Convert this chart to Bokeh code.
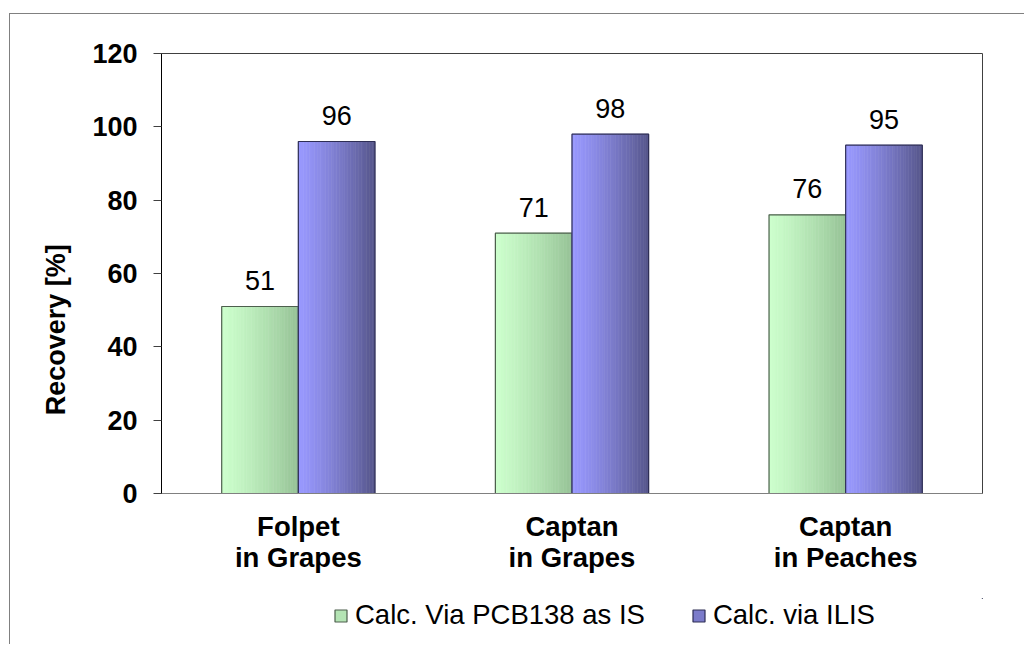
from bokeh.plotting import figure
from bokeh.layouts import column
from bokeh.models import ColumnDataSource, FactorRange, Range1d, Legend, LegendItem
from bokeh.transform import dodge
from bokeh.core.properties import value
from bokeh.embed import file_html
from bokeh.resources import INLINE

# ---- data ----
categories = ["Folpet\nin Grapes", "Captan\nin Grapes", "Captan\nin Peaches"]
series_names = ["Calc. Via PCB138 as IS", "Calc. via ILIS"]
pcb138 = [51, 71, 76]
ilis = [96, 98, 95]
y_ticks = [0, 20, 40, 60, 80, 100, 120]
y_title = "Recovery [%]"

FONT = "Liberation Sans"
FS = "27px"
BAR_W = 0.28
N_STRIPS = 28

series = [
    dict(name=series_names[0], vals=pcb138, off=-BAR_W / 2,
         c0=(204, 255, 204), c1=(150, 194, 150), edge="#4d5f4d"),
    dict(name=series_names[1], vals=ilis, off=BAR_W / 2,
         c0=(153, 153, 255), c1=(86, 86, 138), edge="#2e2e55"),
]

p = figure(x_range=FactorRange(factors=categories, range_padding=0),
           y_range=Range1d(0, 120),
           width=1014, height=584, output_backend="svg", toolbar_location=None,
           min_border_left=151, min_border_top=39, min_border_right=42,
           min_border_bottom=105)

p.xgrid.visible = False
p.ygrid.visible = False
p.outline_line_color = "#404040"
p.outline_line_width = 1
p.background_fill_color = "white"
p.border_fill_color = "white"

# separate strip for the legend (below the chart)
pl = figure(width=1014, height=46, x_range=Range1d(0, 1), y_range=Range1d(0, 1),
            output_backend="svg", toolbar_location=None, min_border=0,
            x_axis_type=None, y_axis_type=None)
pl.xgrid.visible = False
pl.ygrid.visible = False
pl.outline_line_color = None

legend_items = []
for s in series:
    src = ColumnDataSource(dict(cat=categories, val=s["vals"],
                                lab=[str(v) for v in s["vals"]]))
    sw = BAR_W / N_STRIPS
    for i in range(N_STRIPS):
        t = (i + 0.5) / N_STRIPS
        t = t ** 1.25
        col = "#%02x%02x%02x" % tuple(int(round(a + (b - a) * t)) for a, b in zip(s["c0"], s["c1"]))
        off = s["off"] - BAR_W / 2 + sw * (i + 0.5)
        p.vbar(x=dodge("cat", off, range=p.x_range), top="val", width=sw, bottom=0,
               source=src, fill_color=col, line_color=col, line_width=0.6)
    p.vbar(x=dodge("cat", s["off"], range=p.x_range), top="val", width=BAR_W,
           bottom=0, source=src, fill_alpha=0, line_color=s["edge"], line_width=1.2)
    mid = "#%02x%02x%02x" % tuple(int(round(a + (b - a) * 0.45)) for a, b in zip(s["c0"], s["c1"]))
    # legend proxy: zero-height bars lying outside the legend strip's ranges, so only the key shows
    proxy = pl.vbar(x=s["vals"], top=s["vals"], bottom=s["vals"], width=0.1,
                    fill_color=mid, line_color=s["edge"], line_width=1.2)
    legend_items.append(LegendItem(label=s["name"], renderers=[proxy]))
    p.text(x=dodge("cat", s["off"], range=p.x_range), y="val", text="lab", source=src,
           text_font=value(FONT), text_font_size=FS, text_align="center",
           text_baseline="alphabetic", y_offset=-26, text_color="black")

# axes
p.yaxis.ticker = y_ticks
p.yaxis.axis_label = y_title + "\u00a0" * 15
p.yaxis.axis_label_text_font = FONT
p.yaxis.axis_label_text_font_style = "bold"
p.yaxis.axis_label_text_font_size = FS
p.yaxis.axis_label_text_color = "black"
p.yaxis.axis_label_standoff = 18
p.yaxis.major_label_text_font = FONT
p.yaxis.major_label_text_font_style = "bold"
p.yaxis.major_label_text_font_size = FS
p.yaxis.major_label_text_color = "black"
p.yaxis.major_label_standoff = 16
p.yaxis.major_tick_out = 8
p.yaxis.major_tick_in = 0
p.yaxis.minor_tick_line_color = None
p.yaxis.axis_line_color = "black"
p.yaxis.major_tick_line_color = "#404040"

p.xaxis.major_tick_line_color = None
p.xaxis.minor_tick_line_color = None
p.xaxis.axis_line_color = "#808080"
p.xaxis.major_label_text_font = FONT
p.xaxis.major_label_text_font_style = "bold"
p.xaxis.major_label_text_font_size = "27.5px"
p.xaxis.major_label_text_color = "black"
p.xaxis.major_label_standoff = 11
p.xaxis.major_label_text_line_height = 1.0

legend = Legend(items=legend_items, orientation="horizontal", location=(172, 13),
                glyph_width=15, glyph_height=15, label_standoff=7, spacing=46,
                padding=0, margin=0, border_line_color=None, background_fill_alpha=0,
                label_text_font=FONT, label_text_font_size="27.5px",
                label_text_color="black", label_text_baseline="middle")
pl.add_layout(legend, "center")

layout = column(p, pl, spacing=0,
                styles={"border-top": "1px solid #808080", "border-left": "1px solid #808080",
                        "margin-top": "13px", "margin-left": "9px"})

open("out.html", "w").write(file_html(layout, INLINE))
